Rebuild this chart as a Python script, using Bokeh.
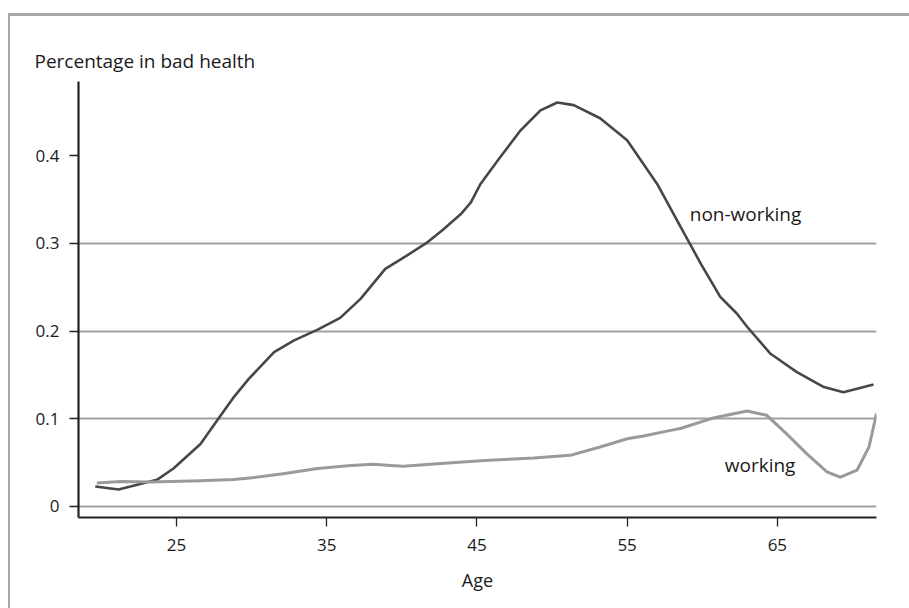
from bokeh.plotting import figure
from bokeh.models import FixedTicker, Range1d, Title
from bokeh.core.properties import value
from bokeh.embed import file_html
from bokeh.resources import INLINE

# ---- data ----
nonworking_age = [19.6, 21.15, 23.7, 24.8, 26.6, 27.8, 28.75, 29.8, 31.5, 32.8, 34.4,
                  35.9, 37.27, 38.9, 40.36, 41.6, 42.7, 43.9, 44.6, 45.24, 46.57, 47.9, 49.23,
                  50.35, 51.45, 53.2, 55.0, 57.0, 58.56, 59.9, 61.2, 62.3, 63.0, 64.55,
                  66.3, 68.1, 69.4, 71.4]
nonworking_val = [0.0225, 0.019, 0.030, 0.043, 0.071, 0.100, 0.123, 0.145, 0.176, 0.189,
                  0.2016, 0.215, 0.237, 0.271, 0.2865, 0.300, 0.315, 0.333, 0.347, 0.368, 0.399,
                  0.429, 0.452, 0.461, 0.458, 0.443, 0.418, 0.368, 0.319, 0.277, 0.239,
                  0.220, 0.2046, 0.174, 0.153, 0.136, 0.130, 0.139]

working_age = [19.7, 21.3, 23.3, 26.6, 28.8, 29.9, 32.1, 34.4, 36.6, 38.1, 39.25, 40.1, 41.9,
               45.5, 48.8, 51.2, 53.2, 55.0, 56.1, 57.9, 58.6, 60.8, 63.0, 64.3, 65.6, 66.95,
               68.3, 69.2, 70.3, 71.1, 71.6]
working_val = [0.0263, 0.028, 0.0275, 0.029, 0.0305, 0.032, 0.037, 0.043, 0.0465, 0.0477,
               0.0465, 0.0454, 0.0477, 0.0522, 0.0549, 0.058, 0.0675, 0.077, 0.080, 0.0865,
               0.089, 0.101, 0.1086, 0.1037, 0.0827, 0.060, 0.039, 0.033, 0.041, 0.0675,
               0.1056]

x_ticks = [25, 35, 45, 55, 65]
y_ticks = [0, 0.1, 0.2, 0.3, 0.4]
y_tick_labels = ["0", "0.1", "0.2", "0.3", "0.4"]
grid_levels = [0, 0.1, 0.2, 0.3]

series_labels = ["non-working", "working"]
label_pos_age = [59.17, 61.5]
label_pos_val = [0.3342, 0.0473]

y_title = "Percentage in bad health"
x_title = "Age"

FONT = "Open Sans"

p = figure(width=899, height=592, output_backend="svg", toolbar_location=None,
           x_range=Range1d(18.48, 71.6), y_range=Range1d(-0.013, 0.485),
           frame_width=798, frame_height=436,
           min_border_left=68, min_border_right=33, min_border_top=65, min_border_bottom=91)
p.margin = (13, 0, 0, 8)
p.outline_line_color = None
p.background_fill_color = "white"
p.border_fill_color = "white"
p.styles = {"border-top": "3px solid #a6a6a6", "border-left": "2px solid #a6a6a6"}

# grid
p.xgrid.visible = False
p.ygrid.ticker = FixedTicker(ticks=grid_levels)
p.ygrid.grid_line_color = "#a0a0a0"
p.ygrid.grid_line_width = 1.8

# axes
for ax in (p.xaxis[0], p.yaxis[0]):
    ax.axis_line_color = "#222222"
    ax.axis_line_width = 2.2
    ax.major_tick_line_color = "#222222"
    ax.major_tick_line_width = 1.3
    ax.major_tick_out = 9
    ax.major_tick_in = 0
    ax.minor_tick_line_color = None
    ax.major_label_text_font = FONT
    ax.major_label_text_font_size = "17px"
    ax.major_label_text_color = "#1a1a1a"

p.xaxis.ticker = FixedTicker(ticks=x_ticks)
p.xaxis.major_label_standoff = 12
p.xaxis.axis_label = x_title
p.xaxis.axis_label_text_font = FONT
p.xaxis.axis_label_text_font_size = "18px"
p.xaxis.axis_label_text_font_style = "normal"
p.xaxis.axis_label_text_color = "#1a1a1a"
p.xaxis.axis_label_standoff = 14

p.yaxis.ticker = FixedTicker(ticks=y_ticks)
p.yaxis.major_label_overrides = {t: l for t, l in zip(y_ticks, y_tick_labels)}
p.yaxis.major_label_standoff = 10

# y title at top-left
t = Title(text=y_title, align="left", offset=-44, standoff=15,
          text_font=FONT, text_font_size="19px", text_font_style="normal",
          text_color="#1a1a1a")
p.add_layout(t, "above")

# lines
p.line(nonworking_age, nonworking_val, line_color="#474747", line_width=2.6, line_join="round")
p.line(working_age, working_val, line_color="#9a9a9a", line_width=3, line_join="round")

p.text(x=label_pos_age, y=label_pos_val, text=series_labels,
       text_font=value(FONT), text_font_size="19px", text_color="#1a1a1a",
       text_baseline="alphabetic", text_align="left")

open("out.html", "w").write(file_html(p, INLINE))
